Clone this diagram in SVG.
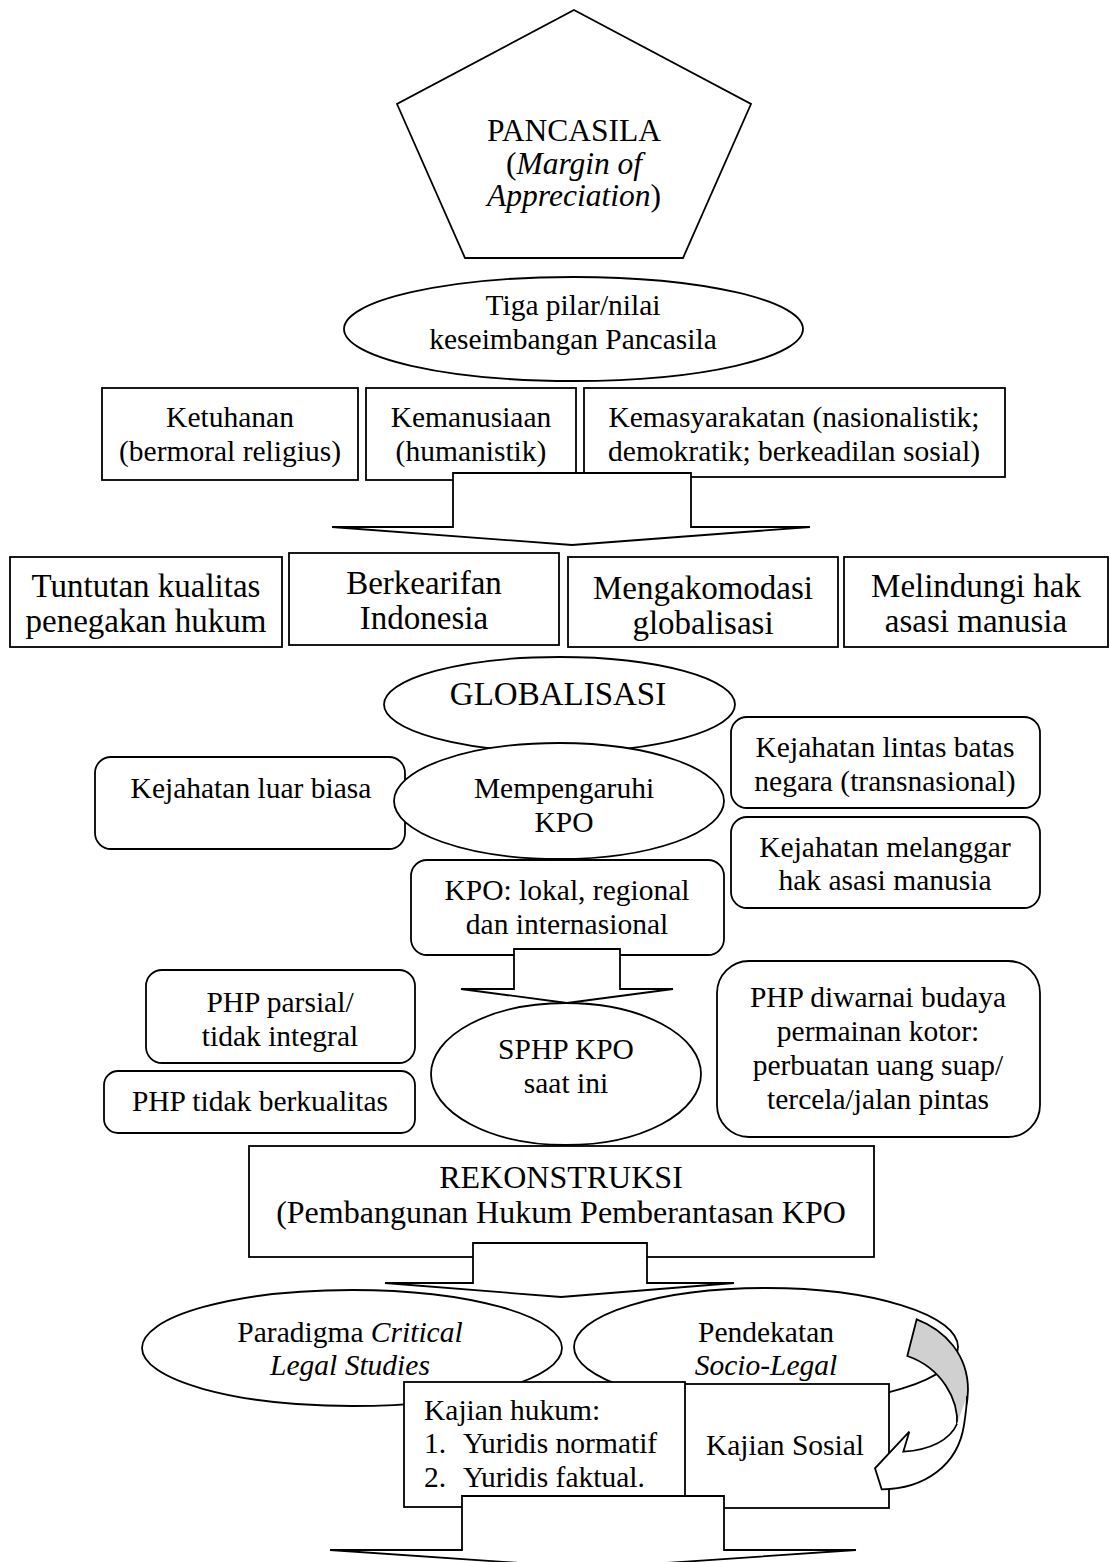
<svg xmlns="http://www.w3.org/2000/svg" width="1110" height="1562" viewBox="0 0 1110 1562">
  <style>
    .s { fill: #fff; stroke: #000; stroke-width: 1.8; }
    .t { font-family: "Liberation Serif", "Times New Roman", serif; font-size: 29.5px; fill: #000; text-anchor: middle; }
    .big { font-size: 33px; }
    .l { text-anchor: start; }
    .i { font-style: italic; }
  </style>
  <rect width="1110" height="1562" fill="#fff"/>

  <!-- Pancasila pentagon -->
  <g id="pancasila">
    <polygon class="s" points="574,10 751,104 683,258 465,258 397,104"/>
    <text class="t" x="574" y="141" style="font-size:31.5px">PANCASILA</text>
    <text class="t" x="574" y="174" style="font-size:31.5px">(<tspan class="i">Margin of</tspan></text>
    <text class="t" x="574" y="206" style="font-size:31.5px"><tspan class="i">Appreciation</tspan>)</text>
  </g>

  <g id="tiga-pilar">
    <ellipse class="s" cx="573.5" cy="329" rx="229.5" ry="52"/>
    <text class="t" x="573" y="315">Tiga pilar/nilai</text>
    <text class="t" x="573" y="349">keseimbangan Pancasila</text>
  </g>

  <!-- three pillars -->
  <g id="ketuhanan">
    <rect class="s" x="102" y="388" width="256" height="92"/>
    <text class="t" x="230" y="427">Ketuhanan</text>
    <text class="t" x="230" y="461">(bermoral religius)</text>
  </g>
  <g id="kemanusiaan">
    <rect class="s" x="366" y="388" width="210" height="92"/>
    <text class="t" x="471" y="427">Kemanusiaan</text>
    <text class="t" x="471" y="461">(humanistik)</text>
  </g>
  <g id="kemasyarakatan">
    <rect class="s" x="584" y="388" width="421" height="89"/>
    <text class="t" x="794" y="427">Kemasyarakatan (nasionalistik;</text>
    <text class="t" x="794" y="461">demokratik; berkeadilan sosial)</text>
  </g>

  <g id="connectors">
    <polygon class="s" points="453,473 691,473 691,527 810,527 572,545 332,527 453,527"/>
  </g>

  <!-- demands row -->
  <g id="tuntutan">
    <rect class="s" x="10" y="557" width="272" height="90"/>
    <text class="t big" x="146" y="597">Tuntutan kualitas</text>
    <text class="t big" x="146" y="632">penegakan hukum</text>
  </g>
  <g id="berkearifan">
    <rect class="s" x="289" y="553" width="270" height="92"/>
    <text class="t big" x="424" y="594">Berkearifan</text>
    <text class="t big" x="424" y="629">Indonesia</text>
  </g>
  <g id="mengakomodasi">
    <rect class="s" x="568" y="557" width="270" height="90"/>
    <text class="t big" x="703" y="599">Mengakomodasi</text>
    <text class="t big" x="703" y="634">globalisasi</text>
  </g>
  <g id="melindungi">
    <rect class="s" x="844" y="557" width="264" height="90"/>
    <text class="t big" x="976" y="597">Melindungi hak</text>
    <text class="t big" x="976" y="632">asasi manusia</text>
  </g>

  <g id="globalisasi">
    <ellipse class="s" cx="559.5" cy="704.5" rx="175.5" ry="47.5"/>
    <text class="t big" x="558" y="705">GLOBALISASI</text>
  </g>
  <g id="luar-biasa">
    <rect class="s" x="95" y="757" width="310" height="92" rx="16"/>
    <text class="t" x="251" y="798">Kejahatan luar biasa</text>
  </g>
  <g id="mempengaruhi">
    <ellipse class="s" cx="559" cy="801" rx="165" ry="58"/>
    <text class="t" x="564" y="798">Mempengaruhi</text>
    <text class="t" x="564" y="832">KPO</text>
  </g>
  <g id="lintas-batas">
    <rect class="s" x="731" y="717" width="309" height="91" rx="16"/>
    <text class="t" x="885" y="757">Kejahatan lintas batas</text>
    <text class="t" x="885" y="791">negara (transnasional)</text>
  </g>
  <g id="melanggar-ham">
    <rect class="s" x="731" y="817" width="309" height="91" rx="16"/>
    <text class="t" x="885" y="857">Kejahatan melanggar</text>
    <text class="t" x="885" y="890">hak asasi manusia</text>
  </g>
  <g id="kpo-lingkup">
    <rect class="s" x="411" y="860" width="313" height="95" rx="16"/>
    <text class="t" x="567" y="900">KPO: lokal, regional</text>
    <text class="t" x="567" y="934">dan internasional</text>
  </g>

  <g id="connectors-2">
    <polygon class="s" points="514,949 620,949 620,989 673,989 567,1003 461,989 514,989"/>
  </g>

  <g id="parsial">
    <rect class="s" x="146" y="970" width="269" height="93" rx="16"/>
    <text class="t" x="280" y="1012">PHP parsial/</text>
    <text class="t" x="280" y="1046">tidak integral</text>
  </g>
  <g id="tidak-berkualitas">
    <rect class="s" x="104" y="1071" width="311" height="62" rx="14"/>
    <text class="t" x="260" y="1111">PHP tidak berkualitas</text>
  </g>
  <g id="sphp">
    <ellipse class="s" cx="566" cy="1074" rx="135" ry="71"/>
    <text class="t" x="566" y="1059">SPHP KPO</text>
    <text class="t" x="566" y="1093">saat ini</text>
  </g>
  <g id="diwarnai">
    <rect class="s" x="717" y="961" width="323" height="176" rx="32"/>
    <text class="t" x="878" y="1007">PHP diwarnai budaya</text>
    <text class="t" x="878" y="1041">permainan kotor:</text>
    <text class="t" x="878" y="1075">perbuatan uang suap/</text>
    <text class="t" x="878" y="1109">tercela/jalan pintas</text>
  </g>

  <g id="rekonstruksi">
    <rect class="s" x="249" y="1146" width="625" height="111"/>
    <text class="t" x="561" y="1188" style="font-size:32px">REKONSTRUKSI</text>
    <text class="t" x="561" y="1223" style="font-size:32px">(Pembangunan Hukum Pemberantasan KPO</text>
  </g>

  <g id="connectors-3">
    <polygon class="s" points="473,1243 647,1243 647,1283 734,1283 561,1297 385,1283 473,1283"/>
  </g>

  <g id="cls">
    <ellipse class="s" cx="352" cy="1348" rx="210" ry="58"/>
    <text class="t" x="350" y="1342">Paradigma <tspan class="i">Critical</tspan></text>
    <text class="t i" x="350" y="1375">Legal Studies</text>
  </g>
  <g id="socio-legal">
    <ellipse class="s" cx="766" cy="1347" rx="192" ry="59"/>
    <text class="t" x="766" y="1342">Pendekatan</text>
    <text class="t i" x="766" y="1375">Socio-Legal</text>
  </g>

  <g id="kajian-sosial">
    <rect class="s" x="681" y="1384" width="208" height="124"/>
    <text class="t" x="785" y="1455">Kajian Sosial</text>
  </g>
  <g id="kajian-hukum">
    <rect class="s" x="404" y="1382" width="281" height="125"/>
    <text class="t l" x="424" y="1420">Kajian hukum:</text>
    <text class="t l" x="424" y="1453">1.</text>
    <text class="t l" x="463" y="1453">Yuridis normatif</text>
    <text class="t l" x="424" y="1487">2.</text>
    <text class="t l" x="463" y="1487">Yuridis faktual.</text>
  </g>

  <!-- curved feedback arrow: shaded back face, then front face with head -->
  <g id="umpan-balik">
    <path class="s" style="fill:#d0d0d0" d="M916.7,1319.3 C945,1330 968,1355 968,1390 C968,1405 963,1418 957,1426 C959,1400 942,1368 907.3,1356 Z"/>
    <path class="s" d="M957,1424 C950,1440 930,1450 903.3,1451.7 L909.3,1431.7 L875,1468.3 L881.7,1489.3 C925,1489 958,1465 964,1425 C966,1412 967,1402 967,1396"/>
  </g>

  <g id="connectors-4">
    <polygon class="s" points="462,1496 724,1496 724,1550 856,1550 593,1568 330,1550 462,1550"/>
  </g>
</svg>
